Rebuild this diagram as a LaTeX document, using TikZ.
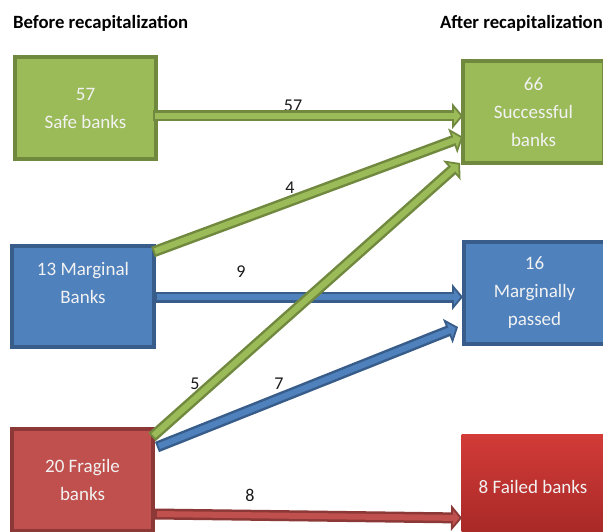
\documentclass[tikz,border=0pt]{standalone}
\usepackage{fontspec}
\setmainfont{Carlito}
\usetikzlibrary{arrows.meta}
\definecolor{gfill}{HTML}{9BBB59}
\definecolor{gline}{HTML}{71893F}
\definecolor{bfill}{HTML}{4F81BD}
\definecolor{bline}{HTML}{385D8A}
\definecolor{rfill}{HTML}{C0504D}
\definecolor{rline}{HTML}{8C3836}
\definecolor{rtop}{HTML}{D23B38}
\definecolor{rbot}{HTML}{A52826}
\definecolor{boxtxt}{HTML}{F2F2F2}
\definecolor{lbl}{HTML}{1A1A1A}
\tikzset{
  boxbase/.style={rectangle, line width=4pt, minimum width=141pt, minimum height=102pt,
    inner sep=0pt, align=center, text=boxtxt, font=\fontsize{19}{28}\selectfont},
  gbox/.style={boxbase, fill=gfill, draw=gline},
  bbox/.style={boxbase, fill=bfill, draw=bline},
  rbox/.style={boxbase, fill=rfill, draw=rline},
  title/.style={font=\bfseries\fontsize{18.7}{22}\selectfont, inner sep=0pt, text=black},
  flowlbl/.style={font=\fontsize{18}{22}\selectfont, text=lbl, inner sep=0pt},
  arrout/.style 2 args={line width=11pt, draw=#2,
    -{Triangle[length=11pt,width=26pt,line width=1.8pt,fill=#1]}},
  arrin/.style={line width=6pt, draw=#1, shorten <=2pt, shorten >=7pt}
}
\newcommand{\blockarr}[4]{%
  \draw[arrout={#3}{#4}] (#1) -- (#2);
  \draw[arrin=#3] (#1) -- (#2);}
\begin{document}
\begin{tikzpicture}[x=1pt,y=-1pt]
\useasboundingbox (0,0) rectangle (603,532);
\fill[white] (0,0) rectangle (603,532);

% titles
\node[title, anchor=west] (tbefore) at (13,23) {Before recapitalization};
\node[title, anchor=east] (tafter) at (603,23) {After recapitalization};

% boxes
\node[gbox] (safe) at (85.5,108) {57\\Safe banks};
\node[gbox] (succ) at (533.5,112) {66\\Successful\\banks};
\node[bbox, minimum width=142pt, minimum height=101pt] (marg) at (83,296.5) {13 Marginal\\Banks\\\mbox{}};
\node[bbox] (mpass) at (534.5,293) {16\\Marginally\\passed};
\node[rbox] (frag) at (82.5,480) {20 Fragile\\banks};
\node[boxbase, draw=none, top color=rtop, bottom color=rbot, minimum width=143pt, minimum height=106pt]
  (failed) at (533,487) {8 Failed banks};

% flow labels
\node[flowlbl] (l57) at (293,106) {57};
\node[flowlbl] (l4) at (290,188) {4};
\node[flowlbl] (l9) at (241,272) {9};
\node[flowlbl] (l5) at (195,384) {5};
\node[flowlbl] (l7) at (279,384) {7};
\node[flowlbl] (l8) at (250,495) {8};

% connector ends
\coordinate (s1) at (153,116);   \coordinate (e1) at (463,116);
\coordinate (s2) at (153,252);   \coordinate (e2) at (463,137);
\coordinate (s3) at (155,297);   \coordinate (e3) at (463,297);
\coordinate (s4) at (152,437);   \coordinate (e4) at (460,163);
\coordinate (s5) at (157,447);   \coordinate (e5) at (458,327);
\coordinate (s6) at (155,514);   \coordinate (e6) at (462,518);

% arrows (blue and red first, green on top)
\blockarr{s3}{e3}{bfill}{bline}
\blockarr{s5}{e5}{bfill}{bline}
\blockarr{s6}{e6}{rfill}{rline}
\blockarr{s1}{e1}{gfill}{gline}
\blockarr{s2}{e2}{gfill}{gline}
\blockarr{s4}{e4}{gfill}{gline}
\end{tikzpicture}
\end{document}
